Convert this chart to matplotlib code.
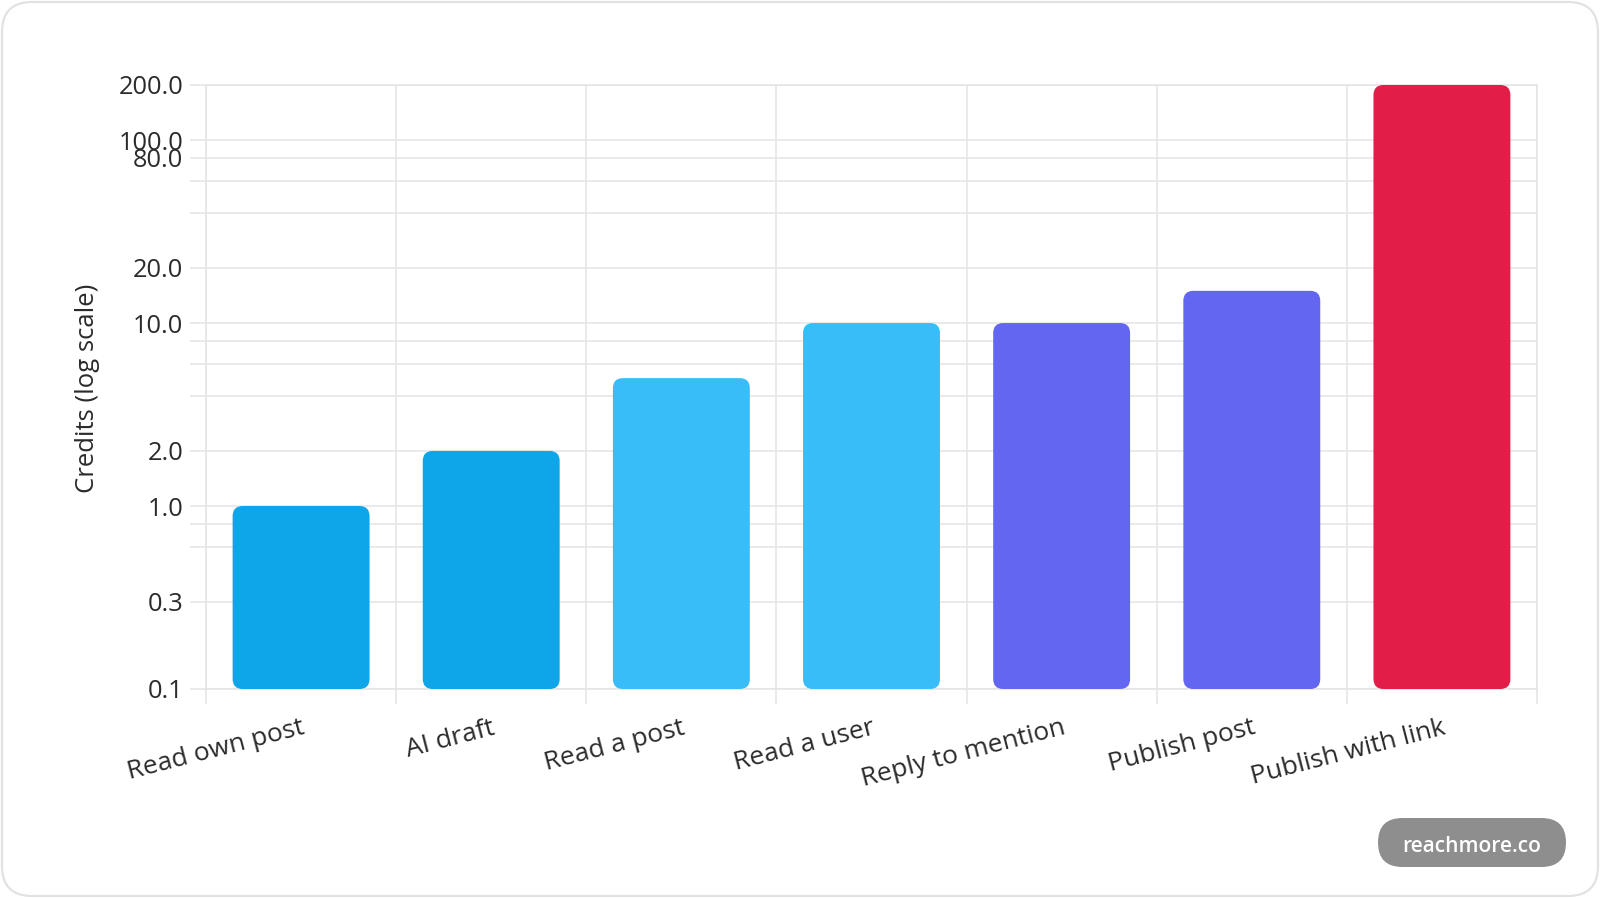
import matplotlib
matplotlib.use('Agg')
import matplotlib.pyplot as plt
from matplotlib.patches import FancyBboxPatch
from matplotlib.ticker import FixedLocator, NullLocator, FuncFormatter
from matplotlib.transforms import IdentityTransform

# ---- data ----
categories = ["Read own post", "AI draft", "Read a post", "Read a user",
              "Reply to mention", "Publish post", "Publish with link"]
credits = [1, 2, 5, 10, 10, 15, 200]
bar_colors = ["#0EA5E9", "#0EA5E9", "#38BDF8", "#38BDF8",
              "#6366F1", "#6366F1", "#E11D48"]
grid_values = [0.1, 0.3, 0.6, 0.8, 1, 2, 4, 6, 8, 10, 20, 40, 60, 80, 100, 200]
labeled_values = [0.1, 0.3, 1, 2, 10, 20, 80, 100, 200]
y_min, y_max = 0.1, 200

plt.rcParams['font.family'] = ['Open Sans', 'DejaVu Sans']

W, H = 1600, 898
DPI = 100
fig = plt.figure(figsize=(W / DPI, H / DPI), dpi=DPI)
fig.patch.set_facecolor('white')

GRID = '#e4e4e4'
TXT = '#2b2b2b'

# card background
card = FancyBboxPatch((2, 2), W - 4, H - 4,
                      boxstyle='round,pad=0,rounding_size=30',
                      transform=IdentityTransform(), fc='white', ec='#e2e2e2', lw=1.6, zorder=0)
fig.add_artist(card)

left, right, top, bottom = 206, 1537, 85, 689
ax = fig.add_axes([left / W, (H - bottom) / H, (right - left) / W, (bottom - top) / H])
ax.set_facecolor('none')
ax.set_yscale('log')
ax.set_ylim(y_min, y_max)
ax.set_xlim(-0.5, len(categories) - 0.5)

x = list(range(len(categories)))
heights = [v - y_min for v in credits]
bars = ax.bar(x, heights, bottom=y_min, width=0.72, color=bar_colors, zorder=3)

# y axis ticks / grid
ax.yaxis.set_major_locator(FixedLocator(grid_values))
ax.yaxis.set_minor_locator(NullLocator())
ax.yaxis.set_major_formatter(FuncFormatter(
    lambda v, p: f"{v:.1f}" if any(abs(v - l) < 1e-9 for l in labeled_values) else ""))
ax.tick_params(axis='y', which='major', length=11.5, width=1.1, color=GRID,
               labelsize=18.3, labelcolor=TXT, pad=5)

# x axis ticks / grid
ax.set_xticks(x)
ax.set_xticklabels(categories, rotation=14.5, ha='right', va='top', rotation_mode='anchor')
ax.xaxis.set_minor_locator(FixedLocator([i - 0.5 for i in range(len(categories) + 1)]))
ax.tick_params(axis='x', which='major', length=0, labelsize=19, labelcolor=TXT, pad=19)
ax.tick_params(axis='x', which='minor', length=10.8, width=1.1, color=GRID)

ax.grid(True, which='major', axis='y', color=GRID, lw=1.1, zorder=0)
ax.grid(True, which='minor', axis='x', color=GRID, lw=1.1, zorder=0)
ax.grid(False, which='major', axis='x')
ax.set_axisbelow(True)
for s in ax.spines.values():
    s.set_color(GRID)
    s.set_linewidth(1.1)

# rounded bars: replace rectangles with rounded patches of the same extent
fig.canvas.draw()
for b, c in zip(bars, bar_colors):
    bb = b.get_window_extent()
    b.set_visible(False)
    rp = FancyBboxPatch((bb.x0, bb.y0), bb.width, bb.height,
                        boxstyle='round,pad=0,rounding_size=10',
                        transform=IdentityTransform(), fc=c, ec='none', zorder=3)
    fig.add_artist(rp)

fig.text(87 / W, 1 - 388 / H, 'Credits (log scale)', rotation=90,
         ha='center', va='center', fontsize=18.5, color=TXT)

# watermark pill
pill = FancyBboxPatch((1378, H - 867), 188, 49,
                      boxstyle='round,pad=0,rounding_size=24.5',
                      transform=IdentityTransform(), fc='#8e8e8e', ec='none', zorder=5)
fig.add_artist(pill)
fig.text(1472 / W, 1 - 846 / H, 'reachmore.co', ha='center', va='center',
         fontsize=15, color='white', fontweight='semibold', zorder=6)

fig.savefig('out.png', dpi=DPI, facecolor='white')
